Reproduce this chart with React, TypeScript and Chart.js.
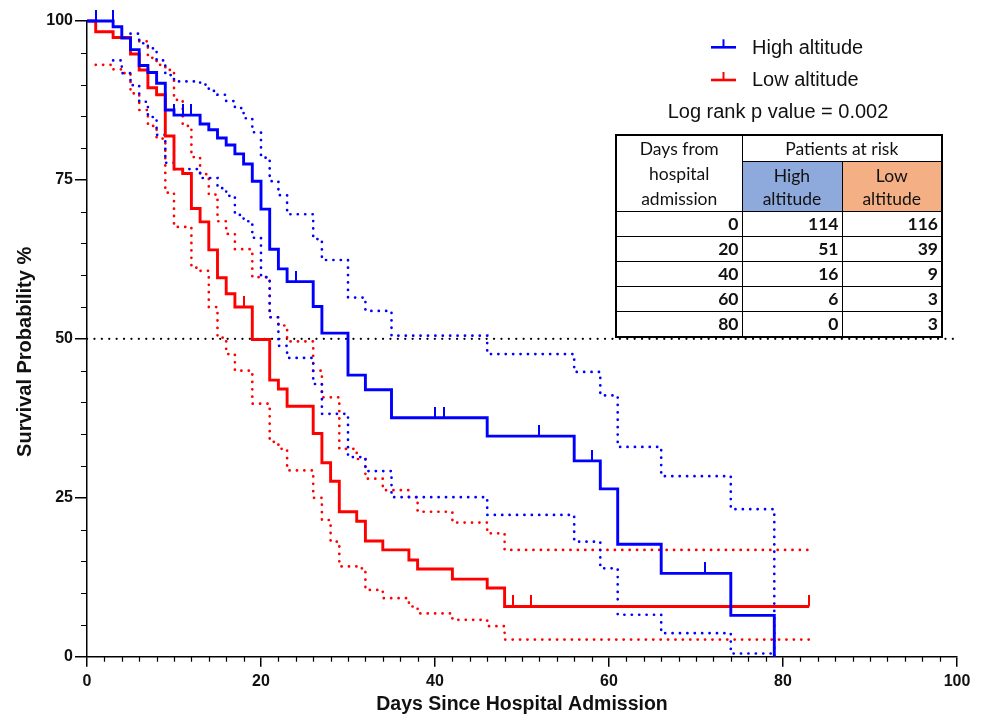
import React, { useEffect, useRef } from 'react';
import { Chart, registerables } from 'chart.js';

Chart.register(...registerables);

// ---------- data ----------
const SERIES_NAMES = ['High altitude', 'Low altitude'];
const SERIES_COLORS = ['#0000ff', '#ff0000'];
const P_VALUE_TEXT = 'Log rank p value = 0.002';
const X_TITLE = 'Days Since Hospital Admission';
const Y_TITLE = 'Survival Probability %';

// Kaplan-Meier, high altitude (day of event, survival % after event)
const HIGH_KM_DAYS = [0, 3, 4, 5, 6, 7, 8, 9, 10, 13, 14, 15, 16, 17, 18, 19, 20, 21, 22, 23, 26, 27, 30, 32, 35, 46, 56, 59, 61, 66, 74, 79];
const HIGH_KM_SURV = [100, 99.1, 97.3, 95.5, 93.0, 91.9, 90.2, 86.0, 85.2, 83.8, 82.9, 81.6, 80.5, 79.1, 77.5, 74.8, 70.4, 64.1, 61.0, 59.0, 55.1, 50.9, 44.3, 42.0, 37.6, 34.7, 30.8, 26.4, 17.7, 13.1, 6.5, 0];
const HIGH_CENSOR_DAYS = [1, 3, 10, 11, 12, 24, 40, 41, 52, 58, 71];
const HIGH_CENSOR_SURV = [100, 100, 85.2, 85.2, 85.2, 59.0, 37.6, 37.6, 34.7, 30.8, 13.1];
const HIGH_UPPER_DAYS = [5, 6, 7, 8, 9, 10, 13, 14, 15, 16, 17, 18, 19, 20, 21, 22, 23, 26, 27, 30, 32, 35, 46, 56, 59, 61, 66, 74, 79];
const HIGH_UPPER_SURV = [98.0, 96.5, 95.7, 93.8, 91.5, 90.5, 90.0, 89.0, 88.4, 87.4, 86.3, 84.7, 82.5, 78.5, 74.8, 72.6, 69.6, 65.7, 62.4, 56.5, 54.4, 50.5, 47.6, 44.8, 41.1, 33.0, 28.4, 23.2, 0];
const HIGH_LOWER_DAYS = [3, 4, 5, 6, 7, 8, 9, 10, 13, 15, 16, 17, 18, 19, 20, 21, 22, 23, 26, 27, 30, 32, 35, 46, 56, 59, 61, 66, 74, 79];
const HIGH_LOWER_SURV = [93.8, 91.8, 89.9, 87.3, 84.9, 82.1, 77.7, 76.7, 75.3, 73.7, 72.5, 69.5, 68.5, 65.9, 59.7, 53.4, 48.9, 47.0, 42.9, 38.2, 31.4, 29.2, 25.1, 22.3, 18.1, 13.9, 6.6, 3.7, 0.5, 0.5];

// Kaplan-Meier, low altitude
const LOW_KM_DAYS = [0, 1, 3, 5, 6, 7, 8, 9, 10, 11, 12, 13, 14, 15, 16, 17, 19, 21, 22, 23, 26, 27, 28, 29, 31, 32, 34, 37, 38, 42, 46, 48, 83];
const LOW_KM_SURV = [100, 98.3, 97.4, 94.8, 92.3, 89.5, 88.4, 81.9, 76.7, 76.0, 70.5, 68.4, 64.0, 59.6, 57.1, 55.0, 49.9, 43.5, 42.1, 39.4, 35.1, 30.5, 27.6, 22.8, 21.3, 18.2, 16.8, 15.2, 13.8, 12.2, 10.8, 7.9, 7.9];
const LOW_CENSOR_DAYS = [18, 49, 51, 83];
const LOW_CENSOR_SURV = [55.0, 7.9, 7.9, 7.9];
const LOW_UPPER_DAYS = [6, 7, 8, 9, 10, 11, 12, 13, 14, 15, 16, 17, 19, 21, 22, 23, 26, 27, 29, 31, 32, 34, 37, 38, 42, 46, 48, 83];
const LOW_UPPER_SURV = [96.8, 94.2, 93.1, 92.3, 87.6, 83.5, 78.6, 75.9, 72.7, 68.5, 66.5, 64.1, 59.7, 53.4, 52.1, 49.6, 45.0, 40.8, 32.7, 31.1, 28.0, 26.2, 25.1, 22.8, 21.1, 19.4, 16.8, 16.8];
const LOW_LOWER_DAYS = [1, 3, 4, 5, 6, 7, 8, 9, 10, 12, 13, 14, 15, 16, 17, 19, 21, 22, 23, 26, 27, 28, 29, 31, 32, 34, 37, 38, 42, 46, 48, 83];
const LOW_LOWER_SURV = [93.1, 92.4, 91.8, 88.6, 86.0, 83.5, 81.5, 73.0, 67.6, 61.2, 60.7, 55.0, 50.2, 47.6, 45.0, 39.8, 33.8, 32.7, 29.3, 25.0, 21.5, 18.1, 14.2, 13.9, 10.5, 9.2, 7.9, 6.8, 5.8, 4.8, 2.7, 2.7];

// median reference line
const MEDIAN_LINE_DAYS = [0, 100];
const MEDIAN_LINE_SURV = [50, 50];

// axes
const X_RANGE = [0, 100];
const X_MAJOR_STEP = 20;
const X_MINOR_STEP = 2;
const Y_RANGE = [0, 100];
const Y_MAJOR_STEP = 25;
const Y_MINOR_STEP = 5;

// patients at risk table
const RISK_DAYS = [0, 20, 40, 60, 80];
const RISK_HIGH = [114, 51, 16, 6, 0];
const RISK_LOW = [116, 39, 9, 3, 3];

// ---------- helpers ----------
const FONT = "'Liberation Sans', Arial, sans-serif";

function toPoints(days: number[], vals: number[]) {
  return days.map((d, i) => ({ x: d, y: vals[i] }));
}

function makeCensorMark(color: string): HTMLCanvasElement {
  const c = document.createElement('canvas');
  c.width = 2;
  c.height = 22;
  const g = c.getContext('2d')!;
  g.fillStyle = color;
  g.fillRect(0, 0, 2, 11);
  return c;
}

const minorTicksPlugin = {
  id: 'minorTicks',
  afterDraw(chart: any) {
    const { ctx, chartArea } = chart;
    const xs = chart.scales.x;
    const ys = chart.scales.y;
    ctx.save();
    ctx.strokeStyle = '#000';
    ctx.lineWidth = 1.2;
    ctx.beginPath();
    for (let v = X_RANGE[0]; v <= X_RANGE[1]; v += X_MINOR_STEP) {
      if (v % X_MAJOR_STEP === 0) continue;
      const px = Math.round(xs.getPixelForValue(v)) + 0.5;
      ctx.moveTo(px, chartArea.bottom);
      ctx.lineTo(px, chartArea.bottom + 5);
    }
    for (let v = Y_RANGE[0]; v <= Y_RANGE[1]; v += Y_MINOR_STEP) {
      if (v % Y_MAJOR_STEP === 0) continue;
      const py = Math.round(ys.getPixelForValue(v)) + 0.5;
      ctx.moveTo(chartArea.left - 6, py);
      ctx.lineTo(chartArea.left, py);
    }
    ctx.stroke();

    // y-axis title (drawn here so it can sit exactly where the reference has it)
    ctx.fillStyle = '#111';
    ctx.font = `bold 20px ${FONT}`;
    ctx.textAlign = 'center';
    ctx.textBaseline = 'middle';
    ctx.translate(25, (chartArea.top + chartArea.bottom) / 2 + 13);
    ctx.rotate(-Math.PI / 2);
    ctx.fillText(Y_TITLE, 0, 0);
    ctx.restore();
  },
};

const legendPlugin = {
  id: 'kmLegend',
  afterDraw(chart: any) {
    const { ctx } = chart;
    ctx.save();
    const lineX0 = 711;
    const lineX1 = 736;
    const rowY = [47.3, 80];
    SERIES_NAMES.forEach((name, i) => {
      const y = rowY[i];
      ctx.strokeStyle = SERIES_COLORS[i];
      ctx.lineWidth = 2.6;
      ctx.beginPath();
      ctx.moveTo(lineX0, y);
      ctx.lineTo(lineX1, y);
      ctx.stroke();
      ctx.lineWidth = 2;
      ctx.beginPath();
      ctx.moveTo((lineX0 + lineX1) / 2, y);
      ctx.lineTo((lineX0 + lineX1) / 2, y - 8);
      ctx.stroke();
      ctx.fillStyle = '#111';
      ctx.font = `20px ${FONT}`;
      ctx.textAlign = 'left';
      ctx.textBaseline = 'alphabetic';
      ctx.fillText(name, 752, y + 6.2);
    });
    ctx.textAlign = 'center';
    ctx.fillText(P_VALUE_TEXT, 778, 117.7);
    ctx.restore();
  },
};

export default function App() {
  const ref = useRef<HTMLCanvasElement>(null);

  useEffect(() => {
    const blue = SERIES_COLORS[0];
    const red = SERIES_COLORS[1];
    const dotted = { borderWidth: 2.7, borderDash: [0.1, 7.3], borderCapStyle: 'round', pointRadius: 0, stepped: true, fill: false, clip: false };
    const solid = { borderWidth: 2.9, pointRadius: 0, stepped: true, fill: false, clip: false, borderJoinStyle: 'miter', borderCapStyle: 'butt' };
    const chart = new Chart(ref.current!, {
      type: 'line',
      data: {
        datasets: [
          { label: SERIES_NAMES[0] + ' censored', data: toPoints(HIGH_CENSOR_DAYS, HIGH_CENSOR_SURV), showLine: false, pointStyle: makeCensorMark(blue), pointRadius: 6, clip: false, order: 0 },
          { label: SERIES_NAMES[1] + ' censored', data: toPoints(LOW_CENSOR_DAYS, LOW_CENSOR_SURV), showLine: false, pointStyle: makeCensorMark(red), pointRadius: 6, clip: false, order: 0.5 },
          { label: SERIES_NAMES[0], data: toPoints(HIGH_KM_DAYS, HIGH_KM_SURV), borderColor: blue, ...solid, order: 1 },
          { label: SERIES_NAMES[1], data: toPoints(LOW_KM_DAYS, LOW_KM_SURV), borderColor: red, ...solid, order: 1.5 },
          { label: SERIES_NAMES[0] + ' upper CI', data: toPoints(HIGH_UPPER_DAYS, HIGH_UPPER_SURV), borderColor: blue, ...dotted, order: 2 },
          { label: SERIES_NAMES[0] + ' lower CI', data: toPoints(HIGH_LOWER_DAYS, HIGH_LOWER_SURV), borderColor: blue, ...dotted, order: 2 },
          { label: SERIES_NAMES[1] + ' upper CI', data: toPoints(LOW_UPPER_DAYS, LOW_UPPER_SURV), borderColor: red, ...dotted, order: 2.5 },
          { label: SERIES_NAMES[1] + ' lower CI', data: toPoints(LOW_LOWER_DAYS, LOW_LOWER_SURV), borderColor: red, ...dotted, order: 2.5 },
          { label: 'Median', data: toPoints(MEDIAN_LINE_DAYS, MEDIAN_LINE_SURV), borderColor: '#000', borderWidth: 2.2, borderDash: [0.1, 7.3], borderCapStyle: 'round', pointRadius: 0, fill: false, clip: false, order: 3 },
        ] as any,
      },
      options: {
        responsive: false,
        animation: false,
        devicePixelRatio: 1,
        events: [],
        layout: { padding: { left: 0, right: 27, top: 21, bottom: 0 } },
        plugins: { legend: { display: false }, tooltip: { enabled: false }, title: { display: false } },
        scales: {
          x: {
            type: 'linear',
            min: X_RANGE[0],
            max: X_RANGE[1],
            ticks: { stepSize: X_MAJOR_STEP, color: '#111', font: { family: FONT, size: 16, weight: 'bold' }, padding: 5, maxRotation: 0 },
            grid: { drawOnChartArea: false, tickLength: 10, color: '#000', lineWidth: 1.5 },
            border: { color: '#000', width: 1.5 },
            title: { display: true, text: X_TITLE, color: '#111', font: { family: FONT, size: 19.5, weight: 'bold' }, padding: { top: 0, bottom: 1 } },
            afterFit: (s: any) => { s.height = 60.3; },
          },
          y: {
            type: 'linear',
            min: Y_RANGE[0],
            max: Y_RANGE[1],
            ticks: { stepSize: Y_MAJOR_STEP, color: '#111', font: { family: FONT, size: 16, weight: 'bold' }, padding: 2 },
            grid: { drawOnChartArea: false, tickLength: 12, color: '#000', lineWidth: 1.5 },
            border: { color: '#000', width: 1.5 },
            title: { display: false },
            afterFit: (s: any) => { s.width = 87; },
          },
        },
      } as any,
      plugins: [minorTicksPlugin, legendPlugin],
    });
    return () => chart.destroy();
  }, []);

  const border = '1.5px solid #000';
  const cell: React.CSSProperties = { border, padding: '0 3px', boxSizing: 'border-box' };
  const numCell: React.CSSProperties = { ...cell, textAlign: 'right', fontWeight: 700, lineHeight: '22px' };

  return (
    <div style={{ position: 'absolute', left: 0, top: 0, width: 984, height: 717, background: '#fff', overflow: 'hidden' }}>
      <canvas ref={ref} width={984} height={717} style={{ display: 'block', width: 984, height: 717 }} />
      <table
        style={{
          position: 'absolute',
          left: 615,
          top: 134,
          width: 326,
          borderCollapse: 'collapse',
          tableLayout: 'fixed',
          fontFamily: "Lato, 'Open Sans', sans-serif",
          fontSize: 17.5,
          color: '#111',
          border: '2px solid #000',
        }}
      >
        <colgroup>
          <col style={{ width: 126 }} />
          <col style={{ width: 100 }} />
          <col style={{ width: 100 }} />
        </colgroup>
        <tbody>
          <tr style={{ height: 26 }}>
            <td rowSpan={2} style={{ ...cell, textAlign: 'center', lineHeight: '25px' }}>
              Days from<br />hospital<br />admission
            </td>
            <td colSpan={2} style={{ ...cell, textAlign: 'center', lineHeight: '24px' }}>Patients at risk</td>
          </tr>
          <tr style={{ height: 49 }}>
            <td style={{ ...cell, textAlign: 'center', lineHeight: '23px', background: '#8EA9DB' }}>High<br />altitude</td>
            <td style={{ ...cell, textAlign: 'center', lineHeight: '23px', background: '#F4B084' }}>Low<br />altitude</td>
          </tr>
          {RISK_DAYS.map((d, i) => (
            <tr key={d} style={{ height: 25 }}>
              <td style={numCell}>{d}</td>
              <td style={numCell}>{RISK_HIGH[i]}</td>
              <td style={numCell}>{RISK_LOW[i]}</td>
            </tr>
          ))}
        </tbody>
      </table>
    </div>
  );
}
